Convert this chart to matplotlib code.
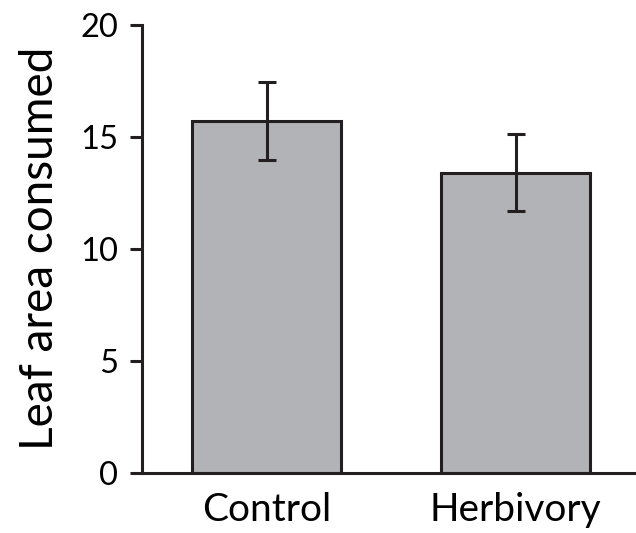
import matplotlib
matplotlib.use("Agg")
import matplotlib.pyplot as plt

plt.rcParams["font.family"] = ["Lato", "DejaVu Sans"]

# data
groups = ["Control", "Herbivory"]
means = [15.7, 13.4]
errors = [1.72, 1.73]
yticks = [0, 5, 10, 15, 20]

fig = plt.figure(figsize=(6.36, 5.33), dpi=100)
ax = fig.add_axes([0.2233, 0.1126, 0.7767, 0.8412])

x = list(range(len(groups)))
ax.bar(x, means, width=0.6, color="#b2b3b6", edgecolor="#231f20", linewidth=2.2,
       yerr=errors, error_kw=dict(ecolor="#231f20", elinewidth=2.2, capsize=6.5, capthick=2.2))

ax.set_xlim(-0.5, 1.483)
ax.set_ylim(0, 20)
ax.set_yticks(yticks)
ax.set_xticks(x)
ax.set_xticklabels(groups, fontsize=28)
ax.tick_params(axis="y", labelsize=23.5, length=9, width=2.2, color="#231f20", pad=8)
ax.tick_params(axis="x", length=0, pad=14)
ax.set_ylabel("Leaf area consumed", fontsize=33, labelpad=14)

for side in ["top", "right"]:
    ax.spines[side].set_visible(False)
for side in ["left", "bottom"]:
    ax.spines[side].set_linewidth(2.2)
    ax.spines[side].set_color("#231f20")

fig.savefig("out.png", dpi=100)
